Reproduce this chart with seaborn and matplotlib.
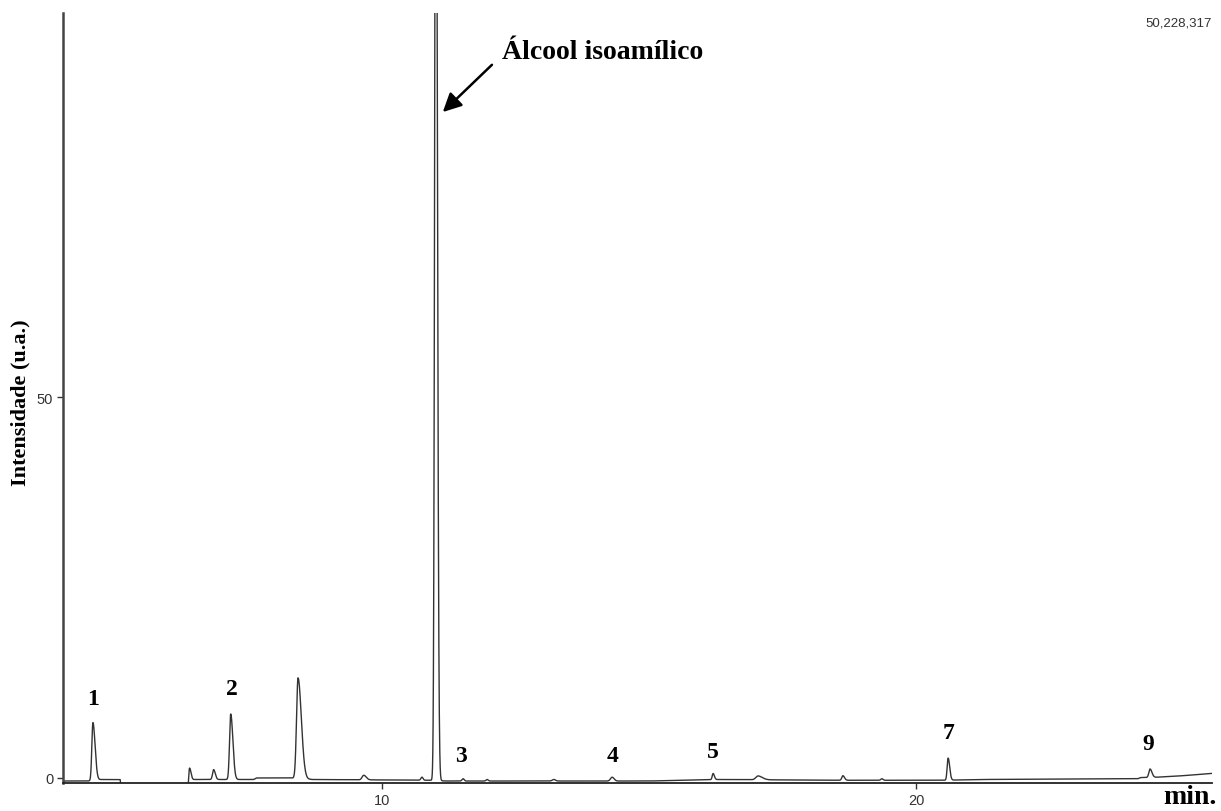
import numpy as np
import pandas as pd
import matplotlib
matplotlib.use("Agg")
import matplotlib.pyplot as plt
import seaborn as sns

# peak table (retention time in min, height in a.u.)
peak_rt = [4.59, 6.40, 6.85, 7.17, 8.43, 9.66, 10.75, 11.01, 11.52, 11.97,
           13.22, 14.31, 16.20, 17.04, 18.63, 19.36, 20.60, 24.38]
peak_height = [7.6, 1.5, 1.3, 8.6, 13.2, 0.6, 0.4, 150.0, 0.3, 0.2,
               0.2, 0.5, 0.8, 0.5, 0.6, 0.2, 2.9, 1.1]
peak_sigma = [0.020, 0.016, 0.020, 0.022, 0.028, 0.03, 0.02, 0.021, 0.02, 0.02,
              0.03, 0.03, 0.016, 0.04, 0.02, 0.02, 0.018, 0.022]
peak_tail = [2.0, 1.6, 1.5, 1.8, 2.2, 1.5, 1.0, 1.3, 1.0, 1.0,
             1.0, 1.2, 1.5, 2.0, 1.5, 1.0, 1.6, 1.6]

# baseline level (time, a.u.)
base_t = [4.03, 4.50, 4.75, 5.10, 5.12, 6.37, 6.39, 7.60, 7.65, 8.30, 8.70,
          10.9, 11.2, 15.0, 16.3, 18.6, 20.5, 21.2, 24.15, 24.20, 24.5, 25.0, 25.54]
base_v = [-0.4, -0.4, -0.2, -0.2, -1.5, -1.5, -0.2, -0.2, 0.0, 0.0, -0.2,
          -0.3, -0.4, -0.4, -0.2, -0.3, -0.3, -0.2, -0.1, 0.05, 0.1, 0.3, 0.6]

labels = ["1", "2", "3", "4", "5", "7", "9"]
label_t = [4.59, 7.19, 11.48, 14.31, 16.20, 20.60, 24.34]
label_y = [10.4, 11.7, 2.9, 2.9, 3.5, 6.0, 4.5]

t = np.linspace(4.03, 25.54, 12000)
signal = np.interp(t, base_t, base_v)
for rt, h, s, k in zip(peak_rt, peak_height, peak_sigma, peak_tail):
    sig = np.where(t < rt, s, s * k)
    signal += h * np.exp(-0.5 * ((t - rt) / sig) ** 2)

df = pd.DataFrame({"tempo": t, "intensidade": signal})

sns.set_style("white")
fig = plt.figure(figsize=(12.21, 8.12), dpi=100)
ax = fig.add_axes([63 / 1221, 1 - 784 / 812, (1212 - 63) / 1221, (784 - 14) / 812])

sns.lineplot(data=df, x="tempo", y="intensidade", ax=ax, color="#333333",
             linewidth=1.0, estimator=None, sort=False)

ax.set_xlim(4.03, 25.54)
ax.set_ylim(-0.66, 100.4)
ax.set_xticks([10, 20])
ax.set_yticks([0, 50])
ax.tick_params(axis="both", which="both", direction="out", length=4, width=1,
               color="#333333", labelsize=10.5, pad=3, left=True, bottom=True)
for lab in ax.get_xticklabels() + ax.get_yticklabels():
    lab.set_family("Liberation Sans")
    lab.set_color("#333333")

for side in ["top", "right"]:
    ax.spines[side].set_visible(False)
ax.spines["left"].set_color("#444444")
ax.spines["left"].set_linewidth(1.8)
ax.spines["bottom"].set_color("#222222")
ax.spines["bottom"].set_linewidth(1.3)

ax.set_xlabel("")
ax.set_ylabel("")
fig.text(20 / 1221, 1 - 403 / 812, "Intensidade (u.a.)", rotation=90,
         ha="center", va="center", fontsize=16, fontweight="bold",
         family="Liberation Serif", color="black")
fig.text(1217 / 1221, 1 - 798 / 812, "min.", ha="right", va="center",
         fontsize=20, fontweight="bold", family="Liberation Serif", color="black")
fig.text(1212 / 1221, 1 - 23 / 812, "50,228,317", ha="right", va="center",
         fontsize=9.5, family="Liberation Sans", color="#333333")

for lab, lt, ly in zip(labels, label_t, label_y):
    ax.text(lt, ly, lab, ha="center", va="center", fontsize=17,
            fontweight="bold", family="Liberation Serif", color="black")

ax.annotate("", xy=(11.14, 87.4), xytext=(12.06, 93.6),
            arrowprops=dict(arrowstyle="-|>", color="black", lw=1.8,
                            mutation_scale=28, shrinkA=0, shrinkB=0))
ax.text(12.25, 95.4, "Álcool isoamílico", ha="left", va="center",
        fontsize=20, fontweight="bold", family="Liberation Serif", color="black")

fig.savefig("out.png", dpi=100)
